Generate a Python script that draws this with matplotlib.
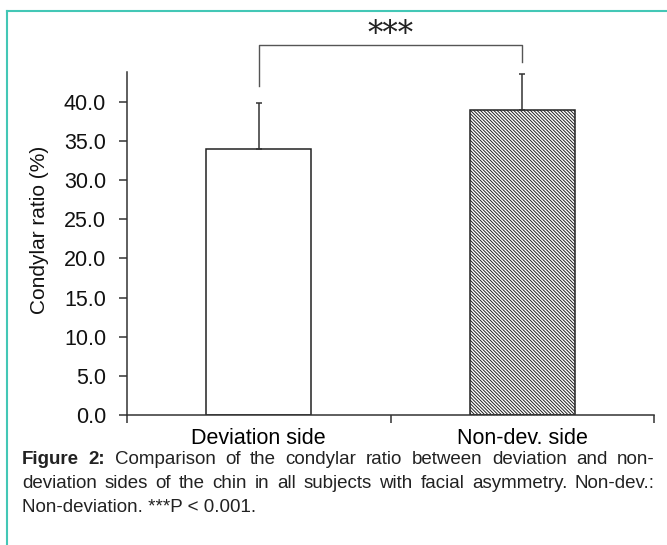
import numpy as np
import matplotlib
matplotlib.use("Agg")
import matplotlib.pyplot as plt
from matplotlib.lines import Line2D

plt.rcParams["font.family"] = ["Liberation Sans", "DejaVu Sans"]
plt.rcParams["hatch.linewidth"] = 0.7

### --- Data --- ###
categories = ["Deviation side", "Non-dev. side"]
means = [34.0, 39.0]
sds = [5.9, 4.6]
yticks = [0, 5, 10, 15, 20, 25, 30, 35, 40]
caption_lines = [
    [("Figure", "bold"), ("2:", "bold"), ("Comparison", "normal"), ("of", "normal"),
     ("the", "normal"), ("condylar", "normal"), ("ratio", "normal"), ("between", "normal"),
     ("deviation", "normal"), ("and", "normal"), ("non-", "normal")],
    [("deviation", "normal"), ("sides", "normal"), ("of", "normal"), ("the", "normal"),
     ("chin", "normal"), ("in", "normal"), ("all", "normal"), ("subjects", "normal"),
     ("with", "normal"), ("facial", "normal"), ("asymmetry.", "normal"),
     ("Non-dev.:", "normal")],
]
last_line = "Non-deviation. ***P < 0.001."

W, H = 667, 545
fig = plt.figure(figsize=(W / 100, H / 100), dpi=100)
ax = fig.add_axes([127 / W, 1 - 415 / H, (654 - 127) / W, (415 - 72) / H])

x = np.arange(len(categories))
dark = "#333333"
ax.bar(x[0], means[0], width=0.40, color="white", edgecolor="#222222", linewidth=1.1)
ax.bar(x[1], means[1], width=0.40, color="white", edgecolor="#222222", linewidth=1.1,
       hatch="\\" * 10)
ax.errorbar(x, means, yerr=[np.zeros(len(sds)), sds], fmt="none", ecolor=dark,
            elinewidth=1.1, capsize=2.5, capthick=1.1)

ax.set_xlim(-0.5, 1.5)
ax.set_ylim(0, 43.8)
ax.set_yticks(yticks)
ax.set_yticklabels(["%.1f" % t for t in yticks], fontsize=15.5)
ax.set_xticks([-0.5, 0.5, 1.5])
ax.set_xticklabels([])
ax.set_xticks(x, minor=True)
ax.set_xticklabels(categories, minor=True, fontsize=15.5)
ax.tick_params(axis="x", which="minor", length=0, pad=9)
ax.tick_params(axis="both", which="major", direction="out", length=6, width=1.1,
               color=dark, labelcolor="#111111")
ax.tick_params(axis="y", pad=9)
for s in ["top", "right"]:
    ax.spines[s].set_visible(False)
for s in ["left", "bottom"]:
    ax.spines[s].set_color(dark)
    ax.spines[s].set_linewidth(1.1)

# significance bracket
bx = [x[0], x[0], x[1], x[1]]
by = [means[0] + sds[0] + 2.1, 47.3, 47.3, means[1] + sds[1] + 1.5]
ax.plot(bx, by, color="#555555", lw=1.0, clip_on=False)
ax.text((x[0] + x[1]) / 2, 48.6, "***", ha="center", va="center", fontsize=22,
        family="DejaVu Serif", color="#222222", clip_on=False)

fig.text(40 / W, 1 - 230 / H, "Condylar ratio (%)", rotation=90, ha="center",
         va="center", fontsize=15, color="#111111")

# teal frame
teal = "#43c7b6"
fig.add_artist(Line2D([7 / W, 1], [1 - 11 / H, 1 - 11 / H], color=teal, lw=1.5,
                      transform=fig.transFigure))
fig.add_artist(Line2D([7 / W, 7 / W], [0, 1 - 11 / H], color=teal, lw=1.5,
                      transform=fig.transFigure))

# justified caption
renderer = fig.canvas.get_renderer()
left, right = 22, 655
cap_y = [460, 484]
for line, yy in zip(caption_lines, cap_y):
    texts = [fig.text(0, 1 - yy / H, w, fontsize=13.5, weight=wt, color="#222222",
                      va="center") for w, wt in line]
    widths = [t.get_window_extent(renderer).width for t in texts]
    gap = (right - left - sum(widths)) / (len(texts) - 1)
    pos = left
    for t, w in zip(texts, widths):
        t.set_x(pos / W)
        pos += w + gap
fig.text(left / W, 1 - 508 / H, last_line, fontsize=13.5, color="#222222", va="center")

fig.savefig("out.png", dpi=100)
